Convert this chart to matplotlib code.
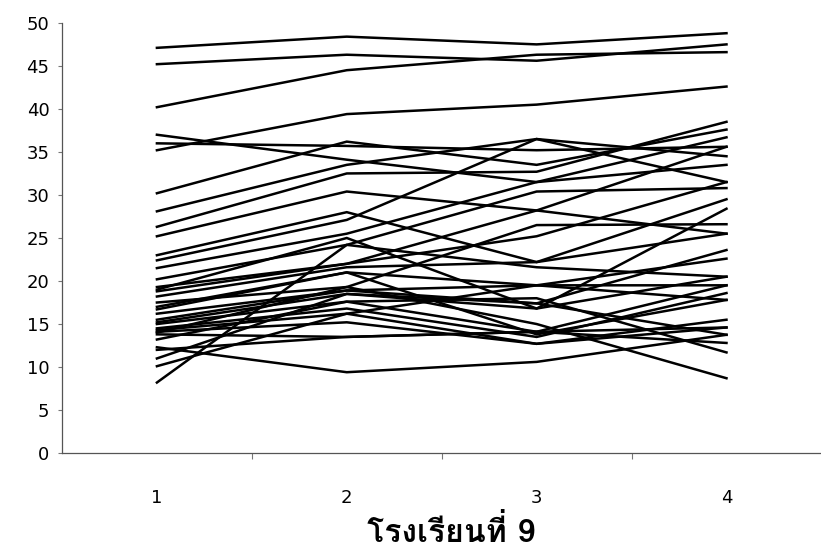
import matplotlib
matplotlib.use("Agg")
import matplotlib.pyplot as plt
from matplotlib import font_manager as fm
from fontTools.ttLib import TTFont

# school 9: score of each student at four measurements
occasions = [1, 2, 3, 4]
students = [
    [47.1, 48.4, 47.5, 48.8],
    [45.2, 46.3, 45.6, 47.5],
    [40.2, 44.5, 46.3, 46.6],
    [35.2, 39.4, 40.5, 42.6],
    [30.2, 36.2, 33.5, 37.6],
    [37.0, 34.1, 31.5, 33.5],
    [36.0, 35.7, 35.2, 35.6],
    [28.1, 33.5, 36.5, 31.5],
    [26.3, 32.5, 32.7, 38.5],
    [25.2, 30.4, 28.2, 25.5],
    [23.0, 28.0, 22.2, 29.5],
    [22.4, 27.1, 36.5, 34.5],
    [21.5, 25.5, 31.5, 36.7],
    [20.2, 24.2, 30.4, 30.8],
    [19.3, 22.0, 28.2, 35.6],
    [19.0, 25.0, 16.8, 28.4],
    [18.2, 21.6, 22.2, 25.5],
    [17.5, 19.3, 26.5, 26.6],
    [17.0, 21.0, 19.5, 22.6],
    [16.2, 18.9, 17.4, 23.6],
    [15.2, 18.5, 16.8, 20.5],
    [15.0, 17.6, 14.1, 19.5],
    [14.5, 16.8, 13.5, 18.6],
    [14.3, 16.2, 19.5, 17.8],
    [14.1, 15.2, 12.7, 15.5],
    [14.0, 19.3, 15.0, 8.7],
    [13.8, 13.5, 14.1, 12.8],
    [13.2, 17.6, 18.0, 11.7],
    [12.3, 9.4, 10.6, 13.75],
    [12.0, 13.5, 14.1, 14.6],
    [11.0, 18.5, 17.4, 13.75],
    [10.1, 16.2, 12.7, 14.6],
    [8.2, 24.2, 21.6, 20.5],
    [18.8, 22.0, 25.2, 31.5],
    [15.5, 18.9, 19.5, 19.5],
    [16.7, 21.0, 13.8, 17.8],
]
title = "โรงเรียนที่ 9"


def thai_font():
    # look for any installed font that has Thai glyphs
    for f in fm.fontManager.ttflist:
        try:
            cmap = TTFont(f.fname, fontNumber=0, lazy=True).getBestCmap()
        except Exception:
            continue
        if cmap and 0x0E42 in cmap and 0x0E23 in cmap:
            return f.name
    return "DejaVu Sans"


fig = plt.figure(figsize=(8.21, 5.58), dpi=100)
ax = fig.add_axes([0.0755, 0.188, 0.925, 0.771])

for s in students:
    ax.plot(occasions, s, color="black", linewidth=1.8, solid_joinstyle="miter")

ax.set_xlim(0.5, 4.5)
ax.set_ylim(0, 50)
ax.set_yticks(range(0, 51, 5))
ax.set_xticks(occasions)
ax.set_xticks([1.5, 2.5, 3.5], minor=True)

ax.spines["top"].set_visible(False)
ax.spines["right"].set_visible(False)
for side in ["left", "bottom"]:
    ax.spines[side].set_color("#555555")
    ax.spines[side].set_linewidth(0.9)

ax.tick_params(axis="y", length=3, width=0.8, color="#777777", labelsize=13, pad=6)
ax.tick_params(axis="x", which="major", length=0, labelsize=13, pad=26)
ax.tick_params(axis="x", which="minor", length=4, width=0.8, color="#777777")

fig.text(0.55, 0.048, title, ha="center", va="center", fontsize=23,
         fontweight="bold", family=[thai_font(), "DejaVu Sans"])

fig.savefig("out.png", dpi=100)
